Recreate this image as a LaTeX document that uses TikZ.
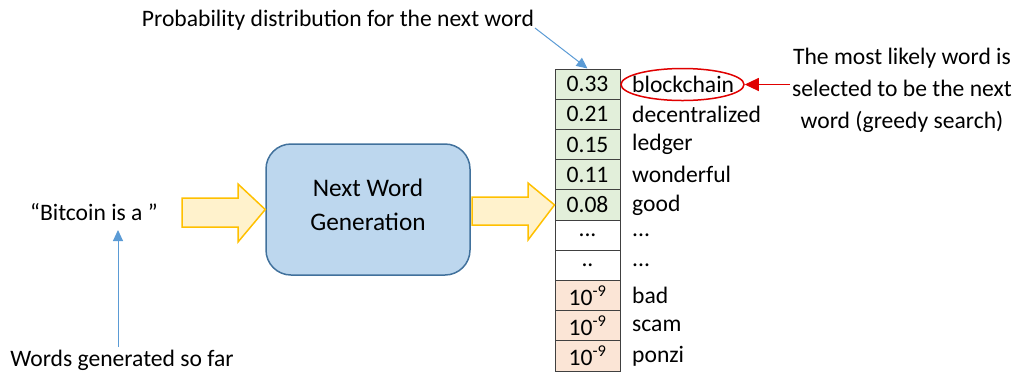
\documentclass[tikz,border=0pt]{standalone}
\usepackage{fontspec}
\setmainfont{Carlito}
\usetikzlibrary{arrows.meta,shapes.geometric}
\definecolor{boxfill}{HTML}{BDD7EE}
\definecolor{boxdraw}{HTML}{41719C}
\definecolor{yelfill}{HTML}{FFF2CC}
\definecolor{yeldraw}{HTML}{FFC000}
\definecolor{grnfill}{HTML}{E2EFDA}
\definecolor{redfill}{HTML}{FBE5D6}
\definecolor{celldraw}{HTML}{404040}
\definecolor{bluearr}{HTML}{5B9BD5}
\definecolor{redarr}{HTML}{E00000}
\newcommand\myThree{...}
\newcommand\myTwo{..}
\newcommand\myExp{10\textsuperscript{-9}}
\begin{document}
\begin{tikzpicture}[x=1pt,y=-1pt,
  txt/.style={inner sep=0pt,font=\fontsize{23.6}{28}\selectfont},
  cell/.style={draw=celldraw,line width=1pt,minimum width=65pt,minimum height=30.2pt,inner sep=0pt,font=\fontsize{23.6}{28}\selectfont},
  word/.style={anchor=west,inner sep=0pt,font=\fontsize{23.6}{28}\selectfont},
  yarrow/.style={fill=yelfill,draw=yeldraw,line width=1.5pt,line join=miter},
  bluel/.style={draw=bluearr,line width=1pt,-{Triangle[length=11pt,width=10pt]}},
]
\useasboundingbox (0,0) rectangle (1016,376);

% model box
\node[draw=boxdraw,fill=boxfill,line width=1.5pt,rounded corners=25pt,minimum width=204pt,minimum height=131pt,inner sep=0pt] (gen) at (368,209.5) {};
\node[inner sep=0pt,align=center,font=\fontsize{25.3}{34}\selectfont] (gentxt) at (368,205) {Next Word\\Generation};

% input text
\node[txt] (inp) at (94,212) {“Bitcoin is a ”};
\node[txt] (sofar) at (122,360) {Words generated so far};
\node[txt] (prob) at (338,20) {Probability distribution for the next word};
\node[txt,align=center,font=\fontsize{23.6}{32}\selectfont] (most) at (902,90) {The most likely word is\\selected to be the next\\word (greedy search)};

% table
\foreach \i/\v/\w/\f in {1/0.33/blockchain/grnfill,2/0.21/decentralized/grnfill,3/0.15/ledger/grnfill,4/0.11/wonderful/grnfill,5/0.08/good/grnfill,6/\myThree/\myThree/white,7/\myTwo/\myThree/white,8/\myExp/bad/redfill,9/\myExp/scam/redfill,10/\myExp/ponzi/redfill}{
  \node[cell,fill=\f] (c\i) at (587.5,{69+15.1+(\i-1)*30.2}) {\v};
  \node[word] (w\i) at (632,{69+15.1+(\i-1)*30.2}) {\w};
}

% ellipse around chosen word
\node[ellipse,draw=redarr,line width=1.5pt,minimum width=123pt,minimum height=32pt,inner sep=0pt] (sel) at (682.5,84.5) {};

% yellow block arrows
\draw[yarrow] (182,198) -- (238,198) -- (238,184) -- (gen.west) -- (238,242) -- (238,227) -- (182,227) -- cycle;
\draw[yarrow] (472,197) -- (528,197) -- (528,183) -- (c5.west) -- (528,240) -- (528,225) -- (472,225) -- cycle;

% blue callout arrows
\coordinate (ps) at (535,28);
\draw[bluel] (ps) -- (c1.north);
\coordinate (ss) at (118,347);
\coordinate (se) at (118,230);
\draw[bluel] (ss) -- (se);

% red arrow
\coordinate (rs) at (790,84.5);
\draw[draw=redarr,line width=1pt,-{Triangle[length=14pt,width=13pt]}] (rs) -- (sel.east);
\end{tikzpicture}
\end{document}
